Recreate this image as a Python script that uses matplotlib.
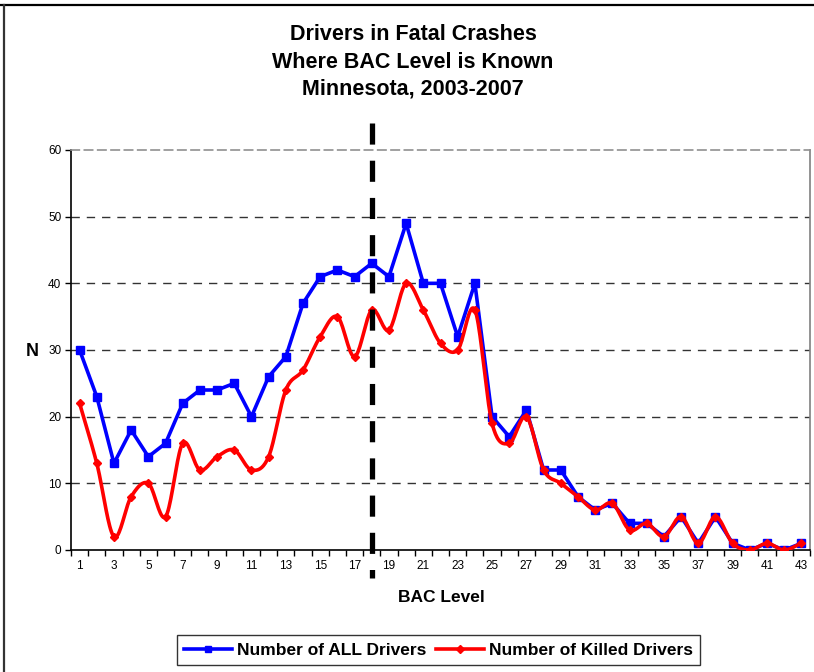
import numpy as np
import matplotlib
matplotlib.use("Agg")
import matplotlib.pyplot as plt
from matplotlib.lines import Line2D

plt.rcParams['font.family'] = ['Liberation Sans', 'DejaVu Sans']

bac_levels = list(range(1, 44))
all_drivers = [30, 23, 13, 18, 14, 16, 22, 24, 24, 25, 20, 26, 29, 37, 41, 42, 41, 43, 41, 49,
               40, 40, 32, 40, 20, 17, 21, 12, 12, 8, 6, 7, 4, 4, 2, 5, 1, 5, 1, 0, 1, 0, 1]
killed_drivers = [22, 13, 2, 8, 10, 5, 16, 12, 14, 15, 12, 14, 24, 27, 32, 35, 29, 36, 33, 40,
                  36, 31, 30, 36, 19, 16, 20, 12, 10, 8, 6, 7, 3, 4, 2, 5, 1, 5, 1, 0, 1, 0, 1]
tick_labels = [str(v) for v in range(1, 44, 2)]
threshold_level = 18

title = "Drivers in Fatal Crashes\nWhere BAC Level is Known\nMinnesota, 2003-2007"


def catmull_rom(x, y, n=20):
    x = np.asarray(x, float)
    y = np.asarray(y, float)
    px = np.concatenate([[2 * x[0] - x[1]], x, [2 * x[-1] - x[-2]]])
    py = np.concatenate([[2 * y[0] - y[1]], y, [2 * y[-1] - y[-2]]])
    xs, ys = [], []
    for i in range(1, len(px) - 2):
        t = np.linspace(0, 1, n, endpoint=False)
        p0, p1, p2, p3 = py[i - 1], py[i], py[i + 1], py[i + 2]
        ys.append(0.5 * ((2 * p1) + (-p0 + p2) * t + (2 * p0 - 5 * p1 + 4 * p2 - p3) * t ** 2
                         + (-p0 + 3 * p1 - 3 * p2 + p3) * t ** 3))
        xs.append(px[i] + (px[i + 1] - px[i]) * t)
    xs.append([x[-1]])
    ys.append([y[-1]])
    return np.concatenate(xs), np.concatenate(ys)


fig = plt.figure(figsize=(8.14, 6.72), dpi=100)
ax = fig.add_axes([71 / 814, 122 / 672, (810 - 71) / 814, 400 / 672])

for yv in range(10, 60, 10):
    ax.axhline(yv, color='#333333', lw=1.0, ls=(0, (6, 5)), zorder=1)

ax.plot(bac_levels, all_drivers, color='#0000FF', lw=2.6, marker='s', ms=5.5,
        zorder=3, label='Number of ALL Drivers')
sx, sy = catmull_rom(bac_levels, killed_drivers)
ax.plot(sx, sy, color='#FF0000', lw=2.6, zorder=4)
ax.plot(bac_levels, killed_drivers, ls='none', color='#FF0000', marker='D', ms=4.5, zorder=4)
ax.plot([], [], color='#FF0000', lw=2.6, marker='D', ms=4.5, label='Number of Killed Drivers')

ax.set_xlim(0.5, 43.5)
ax.set_ylim(0, 60)
ax.plot([threshold_level, threshold_level], [64.05, -4.2], color='black', lw=3.8,
        ls=(0, (4.0, 3.05)), clip_on=False, zorder=5, solid_capstyle='butt',
        dash_capstyle='butt')

ax.set_xticks(list(range(1, 44, 2)))
ax.set_xticklabels(tick_labels, fontsize=8.5)
ax.set_xticks(np.arange(0.5, 44, 1), minor=True)
ax.tick_params(axis='x', which='major', length=0, pad=7)
ax.tick_params(axis='x', which='minor', length=4, width=1, direction='out')
ax.set_yticks(range(0, 61, 10))
ax.set_yticklabels([str(v) for v in range(0, 61, 10)], fontsize=8.5)
ax.tick_params(axis='y', length=4, width=1, direction='out', pad=3)

ax.spines['left'].set_color('black')
ax.spines['bottom'].set_color('black')
ax.spines['top'].set_color('#909090')
ax.spines['top'].set_linestyle((0, (5, 3)))
ax.spines['right'].set_color('#808080')
for s in ax.spines.values():
    s.set_linewidth(1.2)

fig.text(413 / 814, 1 - 62 / 672, title, ha='center', va='center', fontsize=15.5,
         fontweight='bold', linespacing=1.4)
fig.text(32 / 814, 1 - 351 / 672, 'N', ha='center', va='center', fontsize=13, fontweight='bold')
fig.text(441 / 814, 1 - 597 / 672, 'BAC Level', ha='center', va='center', fontsize=12.5,
         fontweight='bold')

leg = fig.legend(loc='center', bbox_to_anchor=(438.5 / 814, 1 - 650 / 672), ncol=2,
                 fontsize=12.5, frameon=True, fancybox=False, handlelength=2.8,
                 columnspacing=0.5, handletextpad=0.3, borderpad=0.4, borderaxespad=0)
for t in leg.get_texts():
    t.set_fontweight('bold')
leg.get_frame().set_edgecolor('black')
leg.get_frame().set_linewidth(1.0)
for h in leg.legend_handles:
    h.set_markersize(4)

fig.add_artist(Line2D([0, 1], [1 - 5 / 672, 1 - 5 / 672], transform=fig.transFigure,
                      color='black', lw=1.6))
fig.add_artist(Line2D([3.5 / 814, 3.5 / 814], [0, 1 - 5 / 672], transform=fig.transFigure,
                      color='#333333', lw=1.6))

fig.savefig('out.png', dpi=100)
